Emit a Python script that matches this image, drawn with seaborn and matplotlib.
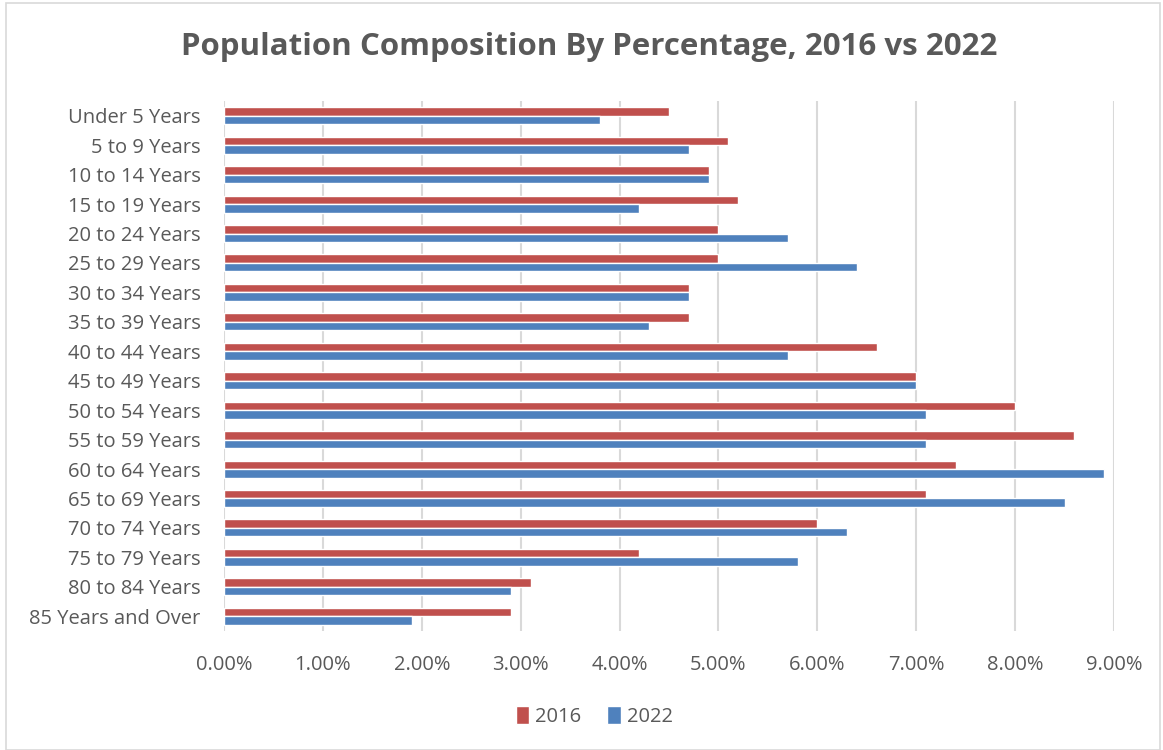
import pandas as pd
import seaborn as sns
import matplotlib.pyplot as plt
from matplotlib.ticker import FuncFormatter, MultipleLocator

# Grupos etarios e percentuais
grupos = ['Under 5 Years', '5 to 9 Years', '10 to 14 Years', '15 to 19 Years',
          '20 to 24 Years', '25 to 29 Years', '30 to 34 Years', '35 to 39 Years',
          '40 to 44 Years', '45 to 49 Years', '50 to 54 Years', '55 to 59 Years',
          '60 to 64 Years', '65 to 69 Years', '70 to 74 Years', '75 to 79 Years',
          '80 to 84 Years', '85 Years and Over']
pct_2016 = [4.5, 5.1, 4.9, 5.2, 5.0, 5.0, 4.7, 4.7, 6.6, 7.0, 8.0, 8.6, 7.4, 7.1, 6.0, 4.2, 3.1, 2.9]
pct_2022 = [3.8, 4.7, 4.9, 4.2, 5.7, 6.4, 4.7, 4.3, 5.7, 7.0, 7.1, 7.1, 8.9, 8.5, 6.3, 5.8, 2.9, 1.9]
anos = ['2016', '2022']

df = pd.DataFrame({
    'Grupo': grupos * 2,
    'Percentual': pct_2016 + pct_2022,
    'Ano': [anos[0]] * len(grupos) + [anos[1]] * len(grupos),
})

sns.set_style('white')
plt.rcParams['font.family'] = ['Open Sans', 'DejaVu Sans']
cinza = '#595959'

fig = plt.figure(figsize=(11.63, 7.5), dpi=100)
ax = fig.add_axes([0.1926, 0.1587, 0.7653, 0.7066])

sns.barplot(data=df, y='Grupo', x='Percentual', hue='Ano', orient='h',
            palette={'2016': '#C0504D', '2022': '#4F81BD'},
            width=0.58, saturation=1, ax=ax, zorder=3)

ax.set_xlim(0, 9)
ax.xaxis.set_major_locator(MultipleLocator(1))
ax.xaxis.set_major_formatter(FuncFormatter(lambda v, p: f'{v:.2f}%'))
ax.grid(axis='x', color='#D9D9D9', linewidth=1.5, zorder=0)
ax.set_axisbelow(True)
for s in ax.spines.values():
    s.set_visible(False)
ax.tick_params(axis='both', length=0, labelsize=14.5, labelcolor=cinza)
ax.tick_params(axis='x', pad=17)
ax.tick_params(axis='y', pad=17)
ax.set_xlabel('')
ax.set_ylabel('')

# Legenda centralizada na figura, abaixo do eixo
handles, labels = ax.get_legend_handles_labels()
ax.get_legend().remove()
fig.legend(handles, labels, loc='center', bbox_to_anchor=(0.511, 0.045), ncol=2,
           frameon=False, fontsize=14.5, labelcolor=cinza, handlelength=0.65,
           handleheight=1.0, handletextpad=0.3, columnspacing=1.3)

fig.text(0.507, 0.937, 'Population Composition By Percentage, 2016 vs 2022',
         ha='center', va='center', fontsize=22.5, fontweight='bold', color=cinza)

# Borda do grafico
borda = plt.Rectangle((0.005, 0.0), 0.992, 0.996, transform=fig.transFigure,
                      fill=False, edgecolor='#D9D9D9', linewidth=1.2)
fig.patches.append(borda)

plt.savefig('out.png', dpi=100)
